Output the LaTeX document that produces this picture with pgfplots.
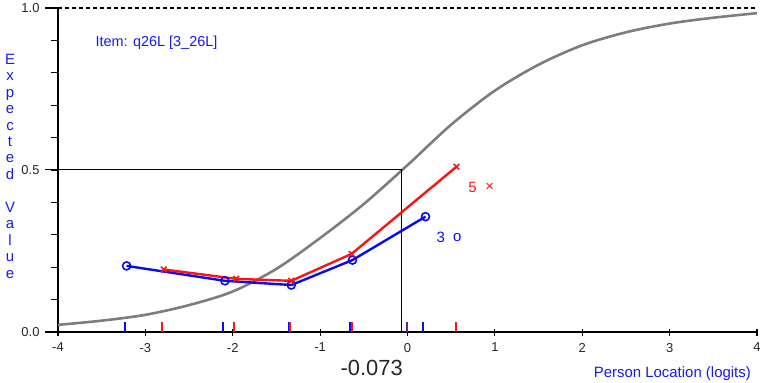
\documentclass[border=0pt]{standalone}
\usepackage{pgfplots}
\pgfplotsset{compat=1.18}
\usepackage{fontspec}
\setmainfont{Liberation Sans}
\definecolor{itemblue}{RGB}{25,25,235}
\definecolor{serblue}{RGB}{10,10,240}
\definecolor{serred}{RGB}{250,20,20}
\definecolor{curvegray}{RGB}{125,125,125}
\definecolor{tickpurple}{RGB}{120,30,140}
\begin{document}
\begin{tikzpicture}
\useasboundingbox (-58bp,-51bp) rectangle (704bp,332bp);
\begin{axis}[
  at={(0,0)}, anchor=south west,
  scale only axis, width=699bp, height=324bp,
  xmin=-4, xmax=4, ymin=0, ymax=1,
  axis lines=left,
  axis line style={line width=1.8bp, -},
  xtick={-4,-3,-2,-1,0,1,2,3,4},
  xticklabels={-4,-3,-2,-1,0,1,2,3,4},
  ytick={0,0.5,1},
  yticklabels={0.0,0.5,1.0},
  xtick align=center, ytick align=outside,
  major tick length=7bp,
  tick style={black, line width=1.2bp},
  tick label style={font=\fontsize{13}{15}\selectfont, text=black!85},
  yticklabel style={xshift=-8bp},
  xticklabel style={yshift=-4bp},
  /pgf/number format/assume math mode=true,
  clip=false,
]
% dashed top reference line
\addplot[black, line width=1.2bp, dash pattern=on 4bp off 3bp] coordinates {(-4,1) (4,1)};
% expected value curve
\addplot[curvegray, line width=2.6bp, smooth] coordinates {
(-4.0,0.022) (-3.5,0.035) (-3.0,0.053) (-2.5,0.083) (-2.0,0.125)
(-1.5,0.195) (-1.0,0.290) (-0.5,0.395) (0.0,0.515) (0.5,0.640)
(1.0,0.745) (1.5,0.825) (2.0,0.885) (2.5,0.925) (3.0,0.952)
(3.5,0.970) (4.0,0.984)};
% location guides
\draw[black, line width=1bp] ([xshift=-13bp]axis cs:-4,0.5) -- (axis cs:-0.073,0.5) -- (axis cs:-0.073,0);
\draw[black, line width=1.2bp] ([xshift=-13bp]axis cs:-4,0) -- (axis cs:-4,0);
\draw[black, line width=1.2bp] ([xshift=-13bp]axis cs:-4,1) -- (axis cs:-4,1);
\pgfplotsinvokeforeach{0.1,0.2,0.3,0.4,0.6,0.7,0.8,0.9}{
  \draw[black, line width=1.2bp] ([xshift=-6.5bp]axis cs:-4,#1) -- (axis cs:-4,#1);
}
% class interval ticks
\addplot[serblue, line width=2bp, ycomb, no markers] coordinates {(-3.23,0.03) (-2.11,0.03) (-1.36,0.03) (-0.66,0.03) (0.175,0.03)};
\addplot[serred, line width=2bp, ycomb, no markers] coordinates {(-2.81,0.03) (-1.98,0.03) (-1.34,0.03) (-0.64,0.03) (0.55,0.03)};
\addplot[tickpurple, line width=2bp, ycomb, no markers] coordinates {(0.0,0.03)};
% observed means
\addplot[serblue, line width=2.4bp, mark=o, mark size=4bp, mark options={line width=1.6bp}] coordinates {
(-3.215,0.204) (-2.09,0.158) (-1.33,0.145) (-0.63,0.222) (0.206,0.356)};
\addplot[serred, line width=2.4bp, mark=x, mark size=4bp, mark options={line width=1.6bp}] coordinates {
(-2.79,0.193) (-1.96,0.164) (-1.33,0.158) (-0.64,0.241) (0.56,0.510)};
% annotations
\node[anchor=west, text=itemblue, font=\fontsize{14.5}{16}\selectfont] at (axis cs:-3.61,0.892) {Item: q26L [3\_26L]};
\node[text=serred, font=\fontsize{15}{17}\selectfont] at (axis cs:0.744,0.445) {5};
\node[text=serred, font=\fontsize{15}{17}\selectfont] at (axis cs:0.94,0.445) {×};
\node[text=serblue, font=\fontsize{15}{17}\selectfont] at (axis cs:0.38,0.291) {3};
\node[text=serblue, font=\fontsize{15}{17}\selectfont] at (axis cs:0.57,0.291) {o};
\node[text=black!85, font=\fontsize{22}{24}\selectfont] at (axis cs:-0.41,-0.111) {-0.073};
\node[anchor=east, text=itemblue, font=\fontsize{15}{17}\selectfont] at (axis cs:3.97,-0.127) {Person Location (logits)};
\node[text=itemblue, align=center, font=\fontsize{15}{16.5}\selectfont] at (axis cs:-4,0.512) [xshift=-48bp]
  {E\\x\\p\\e\\c\\t\\e\\d\\[16.5bp]V\\a\\l\\u\\e};
\end{axis}
\end{tikzpicture}
\end{document}
